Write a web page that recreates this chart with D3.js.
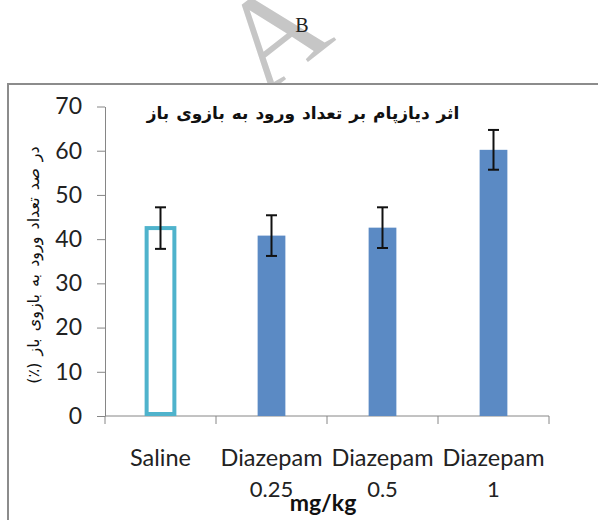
<!DOCTYPE html>
<html>
<head>
<meta charset="utf-8">
<script src="https://cdn.jsdelivr.net/npm/d3@7"></script>
<style>
  html, body { margin: 0; padding: 0; background: #fff; }
</style>
</head>
<body>
<script>
// Chart data
const categories = ["Saline", "Diazepam 0.25", "Diazepam 0.5", "Diazepam 1"];
const labelLines = [["Saline"], ["Diazepam", "0.25"], ["Diazepam", "0.5"], ["Diazepam", "1"]];
const values = [42.5, 40.8, 42.6, 60.2];
const errors = [4.7, 4.6, 4.6, 4.5];
const yTicks = [0, 10, 20, 30, 40, 50, 60, 70];

const width = 598, height = 520;
const margin = {top: 106.5, left: 105, right: 49, bottom: 104};

const svg = d3.select("body").append("svg")
  .attr("width", width)
  .attr("height", height)
  .attr("viewBox", [0, 0, width, height]);

// Watermark letter behind the chart box
svg.append("text")
  .attr("transform", "translate(263,97) rotate(-38)")
  .attr("font-family", "Liberation Serif")
  .attr("font-size", 130)
  .attr("fill", "#c6c6c6")
  .text("A");

// Panel label
svg.append("text")
  .attr("x", 302)
  .attr("y", 32)
  .attr("text-anchor", "middle")
  .attr("font-family", "Liberation Serif")
  .attr("font-size", 20)
  .attr("fill", "#222")
  .text("B");

// Chart frame
svg.append("rect")
  .attr("x", 8)
  .attr("y", 84)
  .attr("width", 620)
  .attr("height", 460)
  .attr("fill", "#fff")
  .attr("stroke", "#8c8c8c")
  .attr("stroke-width", 2);

const x = d3.scaleBand()
  .domain(categories)
  .range([margin.left, width - margin.right])
  .paddingInner(0.75)
  .paddingOuter(0.375);

const y = d3.scaleLinear()
  .domain([0, 70])
  .range([height - margin.bottom, margin.top]);

// Y axis
const yAxis = svg.append("g")
  .attr("transform", `translate(${margin.left},0)`)
  .call(d3.axisLeft(y).tickValues(yTicks).tickSize(8).tickPadding(15).tickSizeOuter(0));
yAxis.select(".domain").attr("stroke", "#868686");
yAxis.selectAll(".tick line").attr("stroke", "#868686");
yAxis.selectAll(".tick text")
  .attr("font-family", "Lato")
  .attr("font-size", 23)
  .attr("fill", "#222");

// X axis line and category boundary ticks
const y0 = y(0);
svg.append("line")
  .attr("x1", margin.left).attr("x2", width - margin.right)
  .attr("y1", y0).attr("y2", y0)
  .attr("stroke", "#868686");

const step = x.step();
const bounds = d3.range(categories.length + 1).map(i => x(categories[0]) - x.paddingOuter() * step + i * step);
svg.append("g")
  .selectAll("line")
  .data(bounds)
  .join("line")
  .attr("x1", d => d).attr("x2", d => d)
  .attr("y1", y0).attr("y2", y0 + 8)
  .attr("stroke", "#868686");

// Bars
const bars = categories.map((c, i) => ({c, v: values[i], e: errors[i], i}));
svg.append("g")
  .selectAll("rect")
  .data(bars)
  .join("rect")
  .attr("x", d => x(d.c))
  .attr("width", x.bandwidth())
  .attr("y", d => y(d.v))
  .attr("height", d => d.i === 0 ? y0 - 2 - y(d.v) : y0 - y(d.v))
  .attr("fill", d => d.i === 0 ? "#fff" : "#5b8ac4")
  .attr("stroke", d => d.i === 0 ? "#4fb3cc" : "none")
  .attr("stroke-width", 4);

// Error bars
const err = svg.append("g").attr("stroke", "#111").attr("stroke-width", 2);
bars.forEach(d => {
  const cx = x(d.c) + x.bandwidth() / 2;
  err.append("line").attr("x1", cx).attr("x2", cx).attr("y1", y(d.v + d.e)).attr("y2", y(d.v - d.e));
  err.append("line").attr("x1", cx - 5.5).attr("x2", cx + 5.5).attr("y1", y(d.v + d.e)).attr("y2", y(d.v + d.e));
  err.append("line").attr("x1", cx - 5.5).attr("x2", cx + 5.5).attr("y1", y(d.v - d.e)).attr("y2", y(d.v - d.e));
});

// Category labels
svg.append("g")
  .attr("font-family", "Lato")
  .attr("font-size", 23.5)
  .attr("fill", "#222")
  .attr("text-anchor", "middle")
  .selectAll("text")
  .data(categories)
  .join("text")
  .attr("x", d => x(d) + x.bandwidth() / 2)
  .attr("y", 466)
  .each(function(d, i) {
    labelLines[i].forEach((line, j) => {
      d3.select(this).append("tspan")
        .attr("x", x(d) + x.bandwidth() / 2)
        .attr("dy", j === 0 ? 0 : 31)
        .attr("font-size", j === 0 ? null : 22)
        .text(line);
    });
  });

// Unit label
svg.append("text")
  .attr("x", 323)
  .attr("y", 511)
  .attr("text-anchor", "middle")
  .attr("font-family", "Lato")
  .attr("font-weight", "bold")
  .attr("font-size", 23)
  .attr("fill", "#111")
  .text("mg/kg");

// Chart title
svg.append("text")
  .attr("x", 303)
  .attr("y", 119)
  .attr("text-anchor", "middle")
  .attr("direction", "rtl")
  .attr("font-family", "DejaVu Sans")
  .attr("font-weight", "bold")
  .attr("font-size", 17)
  .attr("word-spacing", 1)
  .attr("fill", "#111")
  .text("اثر دیازپام بر تعداد ورود به بازوی باز");

// Y axis title
svg.append("text")
  .attr("transform", `translate(39,265) rotate(-90)`)
  .attr("text-anchor", "middle")
  .attr("direction", "rtl")
  .attr("font-family", "DejaVu Sans")
  .attr("font-size", 16)
  .attr("word-spacing", 2)
  .attr("fill", "#111")
  .text("در صد تعداد ورود به بازوی باز (٪)");
</script>
</body>
</html>
